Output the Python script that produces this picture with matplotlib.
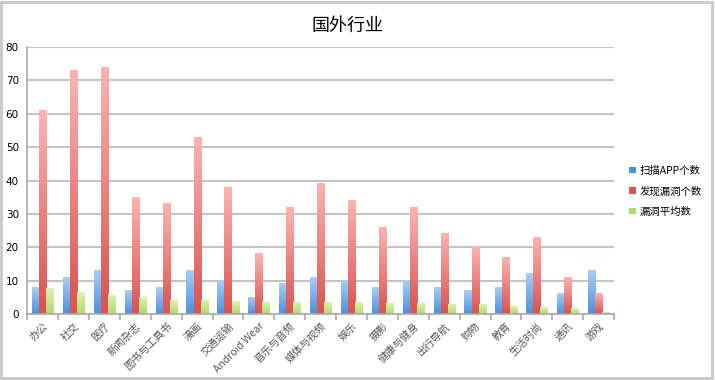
import numpy as np
import matplotlib.pyplot as plt
from matplotlib.patches import Rectangle
from matplotlib.colors import LinearSegmentedColormap

plt.rcParams['font.family'] = ['Noto Sans CJK SC', 'DejaVu Sans']

categories = ["办公", "社交", "医疗", "新闻杂志", "图书与工具书", "漫画", "交通运输",
              "Android Wear", "音乐与音频", "媒体与视频", "娱乐", "摄影", "健康与健身",
              "出行导航", "购物", "教育", "生活时尚", "通讯", "游戏"]
scanned = [8, 11, 13, 7, 8, 13, 10, 5, 9, 11, 10, 8, 10, 8, 7, 8, 12, 6, 13]
vulns = [61, 73, 74, 35, 33, 53, 38, 18, 32, 39, 34, 26, 32, 24, 20, 17, 23, 11, 6]
avg = [7.5, 6.5, 5.6, 4.9, 4.0, 4.0, 3.7, 3.4, 3.4, 3.4, 3.3, 3.1, 3.1, 2.8, 2.7,
       2.1, 1.8, 1.7, 0.4]
series_names = ["扫描APP个数", "发现漏洞个数", "漏洞平均数"]

# (bottom colour, top colour) for the bar gradients
BLUE = ("#4d90dd", "#a9cdf6")
RED = ("#d9534f", "#fbb3b0")
GREEN = ("#b3d96c", "#dcf2b2")
GRID = "#c4c4c4"

fig = plt.figure(figsize=(7.15, 3.8), dpi=100)
fig.patch.set_facecolor("white")
fig.patches.append(Rectangle((0.002, 0.004), 0.994, 0.99, transform=fig.transFigure,
                             fill=False, edgecolor="#c8c8c8", linewidth=2))
ax = fig.add_axes([0.038, 0.174, 0.821, 0.702])

x = np.arange(len(categories))
w = 0.23
grad = np.linspace(0, 1, 64).reshape(-1, 1)
for offset, vals, cols, name in [(-w, scanned, BLUE, series_names[0]),
                                 (0, vulns, RED, series_names[1]),
                                 (w, avg, GREEN, series_names[2])]:
    bars = ax.bar(x + offset, vals, w, color=cols[0], label=name, zorder=3)
    cmap = LinearSegmentedColormap.from_list(name, [cols[0], cols[1]])
    for bar in bars:
        bx, by = bar.get_x(), bar.get_y()
        bw, bh = bar.get_width(), bar.get_height()
        ax.imshow(grad, extent=[bx, bx + bw, by, by + bh], origin="lower",
                  aspect="auto", cmap=cmap, zorder=4, interpolation="bilinear")

ax.set_xlim(-0.5, len(categories) - 0.5)
ax.set_ylim(0, 80)
ax.set_yticks(range(0, 81, 10))
ax.yaxis.grid(True, color=GRID, linewidth=1.5, zorder=0)
ax.tick_params(axis="y", length=0, labelsize=7.5, pad=6)
for lbl in ax.get_yticklabels():
    lbl.set_fontfamily("DejaVu Sans")

ax.set_xticks(x)
ax.set_xticklabels(categories, rotation=45, ha="right", rotation_mode="anchor",
                   fontsize=7.5, color="#555555")
ax.tick_params(axis="x", length=0, pad=5)
ax.set_xticks(np.arange(-0.5, len(categories), 1), minor=True)
ax.tick_params(axis="x", which="minor", length=4, color="#aaaaaa", width=1.2)

for side in ["top", "right"]:
    ax.spines[side].set_visible(False)
ax.spines["left"].set_color("#aaaaaa")
ax.spines["left"].set_linewidth(1.2)
ax.spines["bottom"].set_color("#aaaaaa")
ax.spines["bottom"].set_linewidth(1.2)
ax.spines["bottom"].set_zorder(5)

ax.set_title("国外行业", fontsize=13, pad=12, x=0.545, fontweight="medium")

ax.legend(loc="center left", bbox_to_anchor=(1.01, 0.46), frameon=False,
          fontsize=7.5, handlelength=0.6, handleheight=0.6, handletextpad=0.4,
          labelspacing=1.0)

plt.savefig("out.png", dpi=100)
